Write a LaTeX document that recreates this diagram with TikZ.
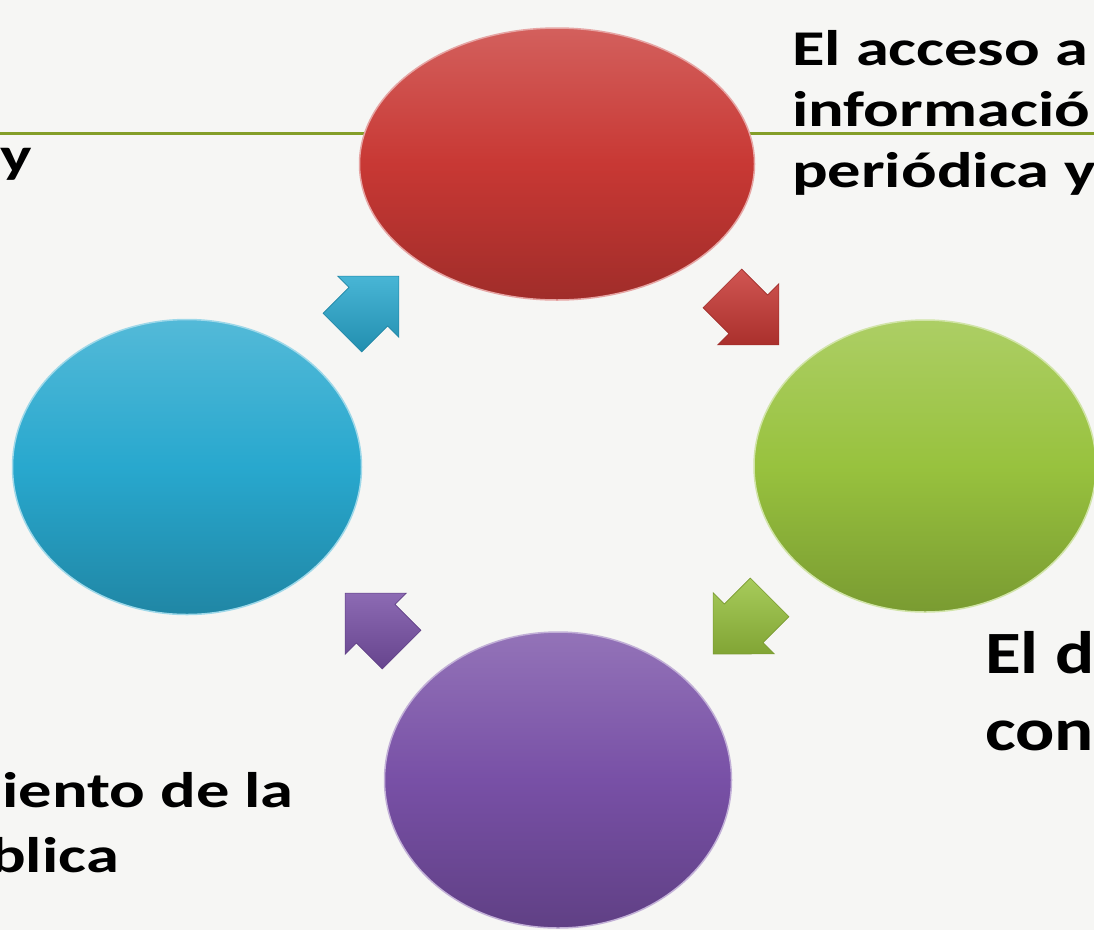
\documentclass[tikz,border=0pt]{standalone}
\usepackage{fontspec}
\setmainfont{Carlito}
\newfontfamily\slidefont[FakeStretch=1.33]{Carlito}
\newfontfamily\bigslidefont[FakeStretch=1.22]{Carlito}
\usetikzlibrary{shapes.geometric,shapes.arrows}
\definecolor{paper}{RGB}{246,246,244}
\definecolor{rulec}{RGB}{132,158,40}
\definecolor{redc}{RGB}{200,56,52}
\definecolor{greenc}{RGB}{152,194,62}
\definecolor{bluec}{RGB}{40,168,206}
\definecolor{purplec}{RGB}{120,80,166}
\tikzset{
  bubble/.style={ellipse, inner sep=0pt, draw=#1!45!white, line width=1.5pt,
    top color=#1!80!white, bottom color=#1!80!black, middle color=#1},
  turn/.style={single arrow, single arrow head extend=16pt, inner xsep=0pt, inner ysep=27pt,
    minimum height=80pt, top color=#1!85!white, bottom color=#1!85!black,
    draw=#1!80!black, line width=0.6pt},
  lbl/.style={inner sep=0pt, align=left, text=black,
    font=\slidefont\bfseries\fontsize{50}{61}\selectfont},
  biglbl/.style={lbl, font=\bigslidefont\bfseries\fontsize{60}{77}\selectfont}
}
\begin{document}
\begin{tikzpicture}[x=1pt, y=-1pt]
    \useasboundingbox (0,0) rectangle (1094,930);
    \clip (0,0) rectangle (1094,930);
    \fill[paper] (0,0) rectangle (1094,930);
    \coordinate (rulew) at (0,133);
    \coordinate (rulee) at (1094,133);
    \draw[rulec, line width=3pt] (rulew) -- (rulee);

    \node[bubble=redc, minimum width=395pt, minimum height=272pt] (topc) at (557,164) {};
    \node[bubble=greenc, minimum width=342pt, minimum height=292pt] (rightc) at (925,466) {};
    \node[bubble=purplec, minimum width=347pt, minimum height=296pt] (bottomc) at (558,780) {};
    \node[bubble=bluec, minimum width=349pt, minimum height=295pt] (leftc) at (187,467) {};

    \node[turn=redc, rotate=-45] (toright) at (741,307) {};
    \node[turn=greenc, rotate=-135] (tobottom) at (751,616) {};
    \node[turn=purplec, rotate=135] (toleft) at (383,631) {};
    \node[turn=bluec, rotate=45] (totop) at (361,314) {};

    \node[lbl, anchor=north west] (accesotext) at (792,30) {El acceso a\\informació\\periódica y};
    \node[lbl, anchor=base west] (ytext) at (0,172) {y};
    \node[biglbl, anchor=north west] (dtext) at (985,631) {El d\\con};
    \node[lbl, anchor=base west] (ientotext) at (2,807) {iento de la};
    \node[lbl, anchor=base west] (blicatext) at (-10,872) {blica};
\end{tikzpicture}
\end{document}
